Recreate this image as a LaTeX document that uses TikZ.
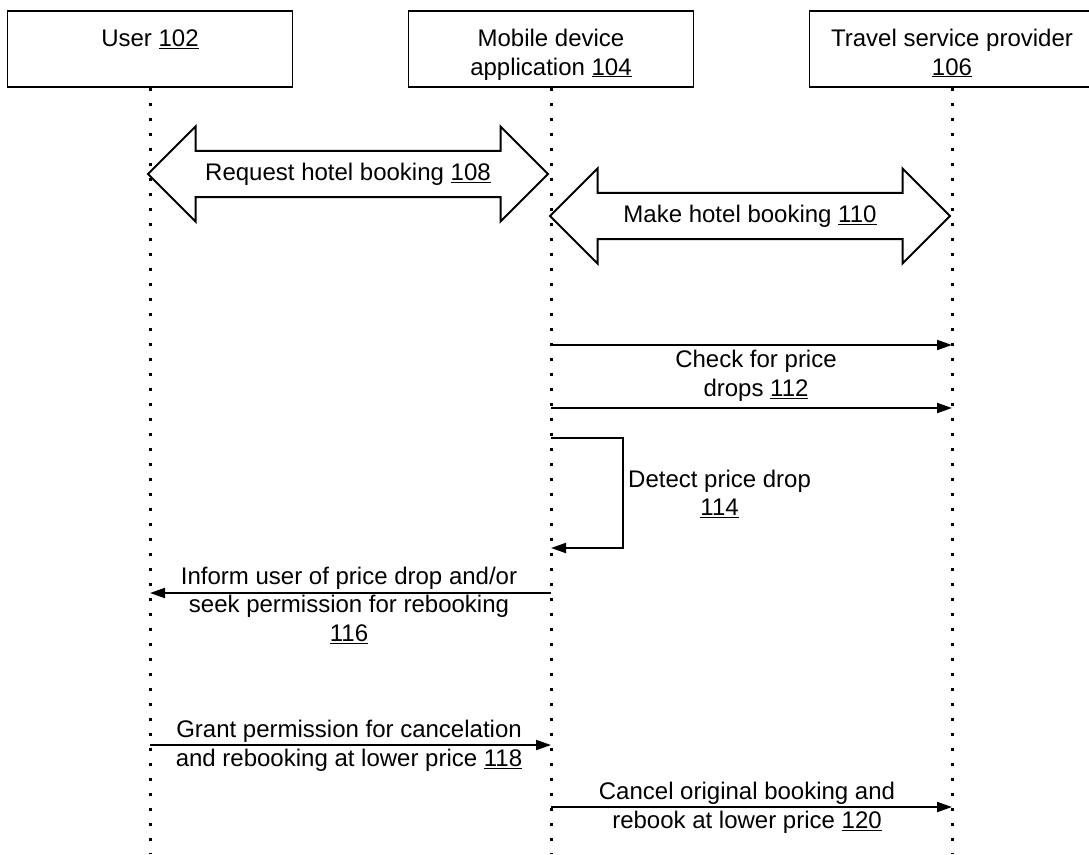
\documentclass[tikz,border=0pt]{standalone}
\usepackage{fontspec}
\setmainfont{Liberation Sans}
\usetikzlibrary{arrows.meta,shapes.arrows}
\newcommand{\refnum}[1]{\underline{#1}}
\newcommand{\msgfont}{\fontsize{24}{28.5}\selectfont}
\tikzset{
  actorbox/.style={rectangle,draw,line width=1.5pt,
    minimum width=285pt,minimum height=76pt,inner ysep=8pt,
    text height=56pt,text depth=4pt,align=center,font=\msgfont},
  lifeline/.style={line width=3pt,dash pattern=on 3pt off 12pt},
  bookarrow/.style={double arrow,draw,line width=2pt,
    minimum height=400pt,minimum width=95pt,double arrow head extend=23pt,
    double arrow tip angle=90,inner xsep=0pt,inner ysep=9.5pt,font=\msgfont},
  msgedge/.style={line width=2pt,-{Triangle[length=15pt,width=10pt]}},
  msglabel/.style={align=center,inner sep=0pt,font=\msgfont}
}
\begin{document}
\begin{tikzpicture}[x=1pt,y=-1pt]
  \useasboundingbox (0,0) rectangle (1089,854);
  \node[actorbox] (user) at (150,49) {User \refnum{102}\\\phantom{1}};
  \node[actorbox] (mob) at (551,49) {Mobile device\\application \refnum{104}};
  \node[actorbox] (trav) at (952,49) {Travel service provider\\\refnum{106}};
  \foreach \a in {user,mob,trav}
    \draw[lifeline] (\a.south) -- (\a.south |- 0,854);
  \foreach \y in {345,408,438,548,593,745,807} {
    \coordinate (u\y) at (150,\y);
    \coordinate (m\y) at (551,\y);
    \coordinate (t\y) at (952,\y);
  }

  \node[bookarrow] (req) at (348,174) {Request hotel booking \refnum{108}};
  \node[bookarrow] (make) at (750,216) {Make hotel booking \refnum{110}};

  \draw[msgedge] (m345) -- (t345);
  \draw[msgedge] (m408) -- (t408);
  \node[msglabel] (check) at (756,376) {Check for price\\drops \refnum{112}};

  \draw[msgedge] (m438) -- ++(72,0) |- (m548);
  \node[msglabel,anchor=west] (detect) at (628,494) {Detect price drop\\\refnum{114}};

  \draw[msgedge] (m593) -- (u593);
  \node[msglabel] (inform) at (349,605)
    {Inform user of price drop and/or\\seek permission for rebooking\\\refnum{116}};

  \draw[msgedge] (u745) -- (m745);
  \node[msglabel] (grant) at (349,746)
    {Grant permission for cancelation\\and rebooking at lower price \refnum{118}};

  \draw[msgedge] (m807) -- (t807);
  \node[msglabel] (rebook) at (747,808)
    {Cancel original booking and\\rebook at lower price \refnum{120}};
\end{tikzpicture}
\end{document}
